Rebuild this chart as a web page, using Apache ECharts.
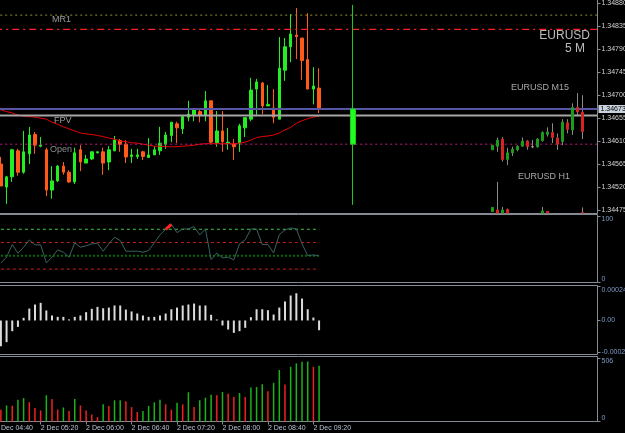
<!DOCTYPE html>
<html>
<head>
<meta charset="utf-8">
<title>EURUSD 5 M</title>
<script src="https://cdn.jsdelivr.net/npm/echarts@6/dist/echarts.min.js"></script>
<style>
  html, body { margin: 0; padding: 0; background: #000; }
  #main { width: 625px; height: 433px; }
</style>
</head>
<body>
<div id="main"></div>
<script>
// time slots, 5 minutes each, from 2 Dec 04:40 (first bar is 04:45)
const slotCount = 107
const times = []
for (let i = 0; i < slotCount; i++) {
  const m = 4 * 60 + 40 + i * 5
  times.push(String(Math.floor(m / 60)).padStart(2, '0') + ':' + String(m % 60).padStart(2, '0'))
}

// 5 minute bars: open, close, low, high
const bars5m = [
  [1.34565, 1.34522, 1.34522, 1.34579], [1.34520, 1.34540, 1.34487, 1.34542],
  [1.34540, 1.34593, 1.34530, 1.34595], [1.34591, 1.34549, 1.34542, 1.34595],
  [1.34549, 1.34589, 1.34546, 1.34630], [1.34585, 1.34622, 1.34565, 1.34638],
  [1.34623, 1.34602, 1.34585, 1.34628], [1.34600, 1.34602, 1.34598, 1.34618],
  [1.34593, 1.34514, 1.34502, 1.34597], [1.34514, 1.34532, 1.34497, 1.34561],
  [1.34532, 1.34561, 1.34530, 1.34563], [1.34561, 1.34549, 1.34544, 1.34569],
  [1.34549, 1.34530, 1.34528, 1.34553], [1.34530, 1.34587, 1.34526, 1.34597],
  [1.34593, 1.34569, 1.34551, 1.34602], [1.34567, 1.34575, 1.34567, 1.34583],
  [1.34575, 1.34589, 1.34573, 1.34590], [1.34587, 1.34589, 1.34586, 1.34590],
  [1.34589, 1.34567, 1.34544, 1.34597], [1.34569, 1.34593, 1.34553, 1.34600],
  [1.34591, 1.34612, 1.34590, 1.34620], [1.34611, 1.34604, 1.34589, 1.34614],
  [1.34604, 1.34579, 1.34567, 1.34612], [1.34580, 1.34583, 1.34567, 1.34595],
  [1.34580, 1.34583, 1.34575, 1.34595], [1.34589, 1.34580, 1.34573, 1.34591],
  [1.34578, 1.34583, 1.34577, 1.34616], [1.34583, 1.34593, 1.34583, 1.34600],
  [1.34591, 1.34606, 1.34583, 1.34638], [1.34604, 1.34622, 1.34595, 1.34628],
  [1.34621, 1.34647, 1.34608, 1.34648], [1.34644, 1.34636, 1.34606, 1.34648],
  [1.34634, 1.34658, 1.34624, 1.34659], [1.34657, 1.34663, 1.34649, 1.34689],
  [1.34660, 1.34671, 1.34649, 1.34671], [1.34668, 1.34661, 1.34647, 1.34671],
  [1.34660, 1.34689, 1.34649, 1.34708], [1.34689, 1.34608, 1.34604, 1.34689],
  [1.34607, 1.34630, 1.34599, 1.34669], [1.34630, 1.34609, 1.34589, 1.34669],
  [1.34606, 1.34608, 1.34593, 1.34636], [1.34604, 1.34599, 1.34573, 1.34614],
  [1.34606, 1.34640, 1.34589, 1.34644], [1.34636, 1.34656, 1.34618, 1.34657],
  [1.34653, 1.34710, 1.34649, 1.34734], [1.34712, 1.34726, 1.34659, 1.34732],
  [1.34724, 1.34679, 1.34663, 1.34726], [1.34679, 1.34682, 1.34679, 1.34720],
  [1.34675, 1.34657, 1.34645, 1.34712], [1.34653, 1.34753, 1.34653, 1.34814],
  [1.34749, 1.34795, 1.34728, 1.34812], [1.34795, 1.34820, 1.34765, 1.34859],
  [1.34818, 1.34815, 1.34771, 1.34871], [1.34812, 1.34768, 1.34730, 1.34812],
  [1.34770, 1.34712, 1.34712, 1.34861], [1.34712, 1.34718, 1.34682, 1.34755],
  [1.34714, 1.34673, 1.34665, 1.34753],
]

// red moving average
const maLine = [
  1.34671, 1.34668, 1.34665, 1.34661, 1.34659, 1.34658, 1.34657, 1.34655, 1.34653, 1.34647,
  1.34643, 1.34638, 1.34634, 1.34630, 1.34626, 1.34624, 1.34623, 1.34621, 1.34619, 1.34616,
  1.34614, 1.34610, 1.34609, 1.34607, 1.34606, 1.34604, 1.34602, 1.34600, 1.34600, 1.34599,
  1.34599, 1.34599, 1.34600, 1.34601, 1.34602, 1.34604, 1.34605, 1.34605, 1.34605, 1.34605,
  1.34605, 1.34605, 1.34606, 1.34608, 1.34612, 1.34617, 1.34619, 1.34620, 1.34622, 1.34626,
  1.34632, 1.34637, 1.34645, 1.34650, 1.34654, 1.34657, 1.34659,
]

// oscillator pane (0..100)
const oscLine = [
  29, 38, 57, 44, 53, 64, 56.5, 56.5, 29.4, 38,
  49, 45.5, 38, 59.5, 53, 55, 58, 59, 47, 58,
  68, 63, 47, 47, 47, 45.5, 48, 59.5, 71.5, 80,
  87.5, 75, 80.5, 80.5, 84, 71.5, 80.5, 34.4, 44, 37,
  38, 34, 58, 64, 80.5, 80.5, 57, 57, 44.4, 72,
  79, 82, 80.5, 58, 40.4, 41.4, 40,
]
const oscLevels = [80, 60, 40, 20]
const oscAlertBars = [29, 30]

// histogram pane
const histValues = [
  -0.000185, -0.000156, -0.000077, -0.000046, 0.000019, 0.000086, 0.000115, 0.000127, 0.000072, 0.000036,
  0.000026, 0.000026, 0.000008, 0.000026, 0.000036, 0.000060, 0.000084, 0.000098, 0.000088, 0.000093,
  0.000108, 0.000108, 0.000079, 0.000065, 0.000050, 0.000036, 0.000026, 0.000026, 0.000036, 0.000050,
  0.000081, 0.000093, 0.000108, 0.000115, 0.000122, 0.000108, 0.000108, 0.000041, 0.000007, -0.000036,
  -0.000065, -0.000089, -0.000077, -0.000053, 0.000024, 0.000081, 0.000081, 0.000074, 0.000043, 0.000093,
  0.000137, 0.000180, 0.000196, 0.000158, 0.000081, 0.000021, -0.000070,
]

// tick volume
const volumes = [
  94, 128, 126, 174, 187, 155, 107, 88, 209, 179,
  96, 112, 83, 179, 128, 88, 56, 35, 137, 123,
  169, 170, 161, 115, 75, 83, 123, 153, 174, 137,
  94, 150, 137, 233, 115, 169, 190, 214, 209, 235,
  222, 195, 227, 195, 271, 275, 297, 241, 308, 410,
  295, 436, 463, 476, 478, 436, 444,
]

// horizontal levels
const mr1Level = 1.34857
const pivotDashLevel = 1.34829
const lastPrice = 1.34673
const fpvLevel = 1.34660
const dayOpenLevel = 1.34604

// big higher timeframe candle drawn at slot 63: open, close, low, high
const daySlot = 63
const dayCandle = [1.34604, 1.34673, 1.34485, 1.34877]

// inset M15 candles: open, close, low, high
const m15Bars = [
  [1.34593, 1.34602, 1.34565, 1.34609], [1.34600, 1.34612, 1.34589, 1.34617],
  [1.34614, 1.34574, 1.34570, 1.34618], [1.34574, 1.34587, 1.34563, 1.34597],
  [1.34587, 1.34594, 1.34581, 1.34599], [1.34593, 1.34600, 1.34590, 1.34602],
  [1.34600, 1.34610, 1.34599, 1.34617], [1.34610, 1.34599, 1.34593, 1.34612],
  [1.34599, 1.34599, 1.34596, 1.34612], [1.34599, 1.34614, 1.34597, 1.34616],
  [1.34611, 1.34627, 1.34609, 1.34629], [1.34623, 1.34628, 1.34619, 1.34637],
  [1.34627, 1.34617, 1.34606, 1.34645], [1.34616, 1.34604, 1.34593, 1.34625],
  [1.34609, 1.34647, 1.34602, 1.34653], [1.34646, 1.34633, 1.34625, 1.34653],
  [1.34632, 1.34676, 1.34622, 1.34684], [1.34676, 1.34667, 1.34659, 1.34704],
  [1.34667, 1.34629, 1.34614, 1.34700],
]
// inset H1 candles (slot, open, close, low, high), only the part above the pane edge
const h1Bars = [
  [0, 1.34472, 1.34480, 1.34469, 1.34483],
  [1, 1.34475, 1.34469, 1.34469, 1.34530],
  [2, 1.34469, 1.34475, 1.34469, 1.34481],
  [3, 1.34476, 1.34469, 1.34469, 1.34478],
  [10, 1.34469, 1.34473, 1.34469, 1.34481],
  [11, 1.34472, 1.34469, 1.34469, 1.34473],
  [18, 1.34470, 1.34469, 1.34469, 1.34480],
]
const insetTicks = [1.34704, 1.34667, 1.34630, 1.34594, 1.34530, 1.34510, 1.34491, 1.34471]

// axis labels
const priceTicks = [1.34475, 1.34520, 1.34565, 1.34610, 1.34655, 1.34700, 1.34745, 1.34790, 1.34835, 1.34880]
const oscTicks = [0, 100]
const histTicks = [-0.00023, 0, 0.000245]
const volTicks = [0, 506]

const fontFamily = 'Liberation Sans'
const frameColor = '#858b95'
const sideLabelColor = '#7f9bc8'
const bullColor = '#22ee22'
const bearColor = '#ff5a1a'
const priceMin = 1.344681
const priceMax = 1.348886

const chart = echarts.init(document.getElementById('main'))

const gridLeft = -4.8
const gridRight = 27.5
// outerBoundsMode none: labels may run past the canvas edge like in the terminal
const frame = { show: true, borderColor: frameColor, borderWidth: 1, backgroundColor: 'transparent', outerBoundsMode: 'none', containLabel: false }

const hiddenX = (gridIndex, data) => ({
  type: 'category', gridIndex, data, boundaryGap: false,
  axisLine: { show: false }, axisTick: { show: false }, axisLabel: { show: false }, splitLine: { show: false },
})

// one value axis on the right; label alignment per axis so ends sit inside the pane
const sideAxis = (gridIndex, min, max, labels, align, ticks, fmt, color, padding) => ({
  type: 'value', gridIndex, position: 'right', min, max,
  splitLine: { show: false },
  axisLine: { show: false },
  axisTick: { show: !!ticks, customValues: ticks || [], length: 3, lineStyle: { color: frameColor } },
  axisLabel: {
    customValues: labels, verticalAlign: align, margin: 4, padding: padding || 0,
    color: color || sideLabelColor, fontSize: 7, fontFamily, formatter: fmt,
  },
})

const lastSlot = bars5m.length
const showTime = (idx) => idx % 8 === 0 && idx <= lastSlot

// a horizontal level across every slot of the main pane
const levelSeries = (name, value, lineStyle, extra) => ({
  name,
  type: 'line',
  xAxisIndex: 0, yAxisIndex: 0,
  symbol: 'none',
  silent: true,
  lineStyle,
  data: times.map((t, i) => [i, value]),
  z: 3,
  ...extra,
})

const priceFmt = (v) => v.toFixed(5)

const option = {
  backgroundColor: '#000',
  animation: false,
  grid: [
    { left: gridLeft, right: gridRight, top: -1, height: 214.5, ...frame },
    { left: 492.7, right: 42.3, top: -1, height: 214.5, ...frame, show: false },
    { left: gridLeft, right: gridRight, top: 214.5, height: 68, ...frame },
    { left: gridLeft, right: gridRight, top: 285.5, height: 69, ...frame },
    { left: gridLeft, right: gridRight, top: 356.5, height: 65, ...frame },
  ],
  xAxis: [
    hiddenX(0, times),
    hiddenX(1, m15Bars.map((d, k) => String(k))),
    hiddenX(2, times),
    hiddenX(3, times),
    {
      type: 'category', gridIndex: 4, data: times, boundaryGap: false,
      axisLine: { show: false },
      splitLine: { show: false },
      axisTick: { show: true, interval: showTime, length: 3, lineStyle: { color: frameColor } },
      axisLabel: {
        interval: showTime, align: 'left', margin: 3,
        color: '#b8c2d4', fontSize: 7, fontFamily,
        formatter: (v) => '2 Dec ' + v,
      },
    },
  ],
  yAxis: [
    sideAxis(0, priceMin, priceMax, priceTicks.slice(0, -1), 'middle', priceTicks, priceFmt, '#d4d4d4'),
    {
      type: 'value', gridIndex: 1, position: 'left', offset: 7.7, min: priceMin, max: priceMax,
      splitLine: { show: false }, axisLine: { show: false }, axisLabel: { show: false },
      axisTick: { customValues: insetTicks, length: 2, lineStyle: { color: '#8c8c8c' } },
    },
    sideAxis(2, -0.15, 102.25, [oscTicks[1]], 'top', oscTicks, (v) => String(v)),
    sideAxis(2, -0.15, 102.25, [oscTicks[0]], 'bottom', null, (v) => String(v)),
    sideAxis(3, -0.000245, 0.000252, [histTicks[2]], 'top', histTicks, (v) => String(v)),
    sideAxis(3, -0.000245, 0.000252, [histTicks[1]], 'middle', null, () => '0.00'),
    sideAxis(3, -0.000245, 0.000252, [histTicks[0]], 'middle', null, (v) => String(v), null, [0, 0, 3, 0]),
    sideAxis(4, 0, 518, [volTicks[1]], 'top', volTicks, (v) => String(v)),
    sideAxis(4, 0, 518, [volTicks[0]], 'bottom', null, (v) => String(v)),
    // top price label pushed down so it stays on the canvas
    sideAxis(0, priceMin, priceMax, priceTicks.slice(-1), 'middle', null, priceFmt, '#d4d4d4', [3, 0, 0, 0]),
  ],
  series: [
    {
      name: 'M5',
      type: 'candlestick',
      xAxisIndex: 0, yAxisIndex: 0,
      barWidth: 3,
      encode: { x: 0, y: [1, 2, 3, 4] },
      itemStyle: {
        color: bullColor, color0: bearColor,
        borderColor: bullColor, borderColor0: bearColor, borderColorDoji: bullColor,
        borderWidth: 1,
      },
      data: bars5m.map((d, i) => [i + 1, ...d]),
      z: 2,
    },
    {
      name: 'MA',
      type: 'line',
      xAxisIndex: 0, yAxisIndex: 0,
      symbol: 'none',
      lineStyle: { color: '#e80000', width: 1 },
      data: maLine.map((v, i) => [i + 1, v]),
      z: 3,
    },
    levelSeries('MR1', mr1Level, { color: '#93932c', type: [2, 3], width: 1 }),
    levelSeries('pivot', pivotDashLevel, { color: '#ff2020', type: [7, 4, 2, 4], width: 1.4 }),
    levelSeries('FPV', fpvLevel, { color: '#a6a6a6', width: 2 }),
    levelSeries('Open', dayOpenLevel, { color: '#c8188c', type: [2, 3], width: 1 }),
    levelSeries('Bid', lastPrice, { color: '#5656a4', width: 2 }, {
      endLabel: {
        show: true, distance: 1,
        formatter: () => priceFmt(lastPrice),
        color: '#000', backgroundColor: '#c9d2de',
        fontSize: 7, fontFamily, padding: [1, 3, 0, 2],
      },
    }),
    {
      name: 'D1',
      type: 'candlestick',
      xAxisIndex: 0, yAxisIndex: 0,
      barWidth: 5,
      encode: { x: 0, y: [1, 2, 3, 4] },
      itemStyle: { color: '#1eff1e', color0: '#1eff1e', borderColor: '#1ec81e', borderColor0: '#1ec81e', borderWidth: 1 },
      data: [[daySlot, ...dayCandle]],
      z: 4,
    },
    // inset: gray wicks, then coloured bodies
    {
      name: 'M15 wick',
      type: 'candlestick',
      xAxisIndex: 1, yAxisIndex: 1,
      barWidth: 1,
      encode: { x: 0, y: [1, 2, 3, 4] },
      itemStyle: { color: '#8a8a8a', color0: '#8a8a8a', borderColor: '#8a8a8a', borderColor0: '#8a8a8a', borderColorDoji: '#8a8a8a', borderWidth: 1 },
      data: m15Bars.map((d, k) => [k, ...d]).concat(h1Bars),
      z: 2,
    },
    {
      name: 'M15 body',
      type: 'candlestick',
      xAxisIndex: 1, yAxisIndex: 1,
      barWidth: 3,
      encode: { x: 0, y: [1, 2, 3, 4] },
      itemStyle: { color: '#1c9c1c', color0: '#d42424', borderColor: '#1c9c1c', borderColor0: '#d42424', borderColorDoji: '#a8a8a8', borderWidth: 1 },
      data: m15Bars.map((d, k) => [k, ...d]).concat(h1Bars)
        .map((d) => [d[0], d[1], d[2], Math.min(d[1], d[2]), Math.max(d[1], d[2])]),
      z: 3,
    },
    // oscillator pane
    ...oscLevels.map((lv) => ({
      name: 'level ' + lv,
      type: 'line',
      xAxisIndex: 2, yAxisIndex: 2,
      symbol: 'none',
      silent: true,
      lineStyle: lv === 80
        ? { color: '#44cc44', type: [3, 3], width: 1 }
        : lv === 40
          ? { color: '#0a6a0a', type: [2, 2], width: 2 }
          : { color: '#cc2020', type: [3, 3], width: 1 },
      data: oscLine.map((v, i) => [i + 1, lv]),
      z: 1,
    })),
    {
      name: 'osc',
      type: 'line',
      xAxisIndex: 2, yAxisIndex: 2,
      symbol: 'none',
      lineStyle: { color: '#3a6262', width: 1 },
      data: oscLine.map((v, i) => [i + 1, v]),
      z: 2,
    },
    {
      name: 'osc alert',
      type: 'line',
      xAxisIndex: 2, yAxisIndex: 2,
      symbol: 'none',
      lineStyle: { color: '#ff2020', width: 3 },
      data: oscAlertBars.map((i) => [i + 1, oscLine[i]]),
      z: 3,
    },
    {
      name: 'hist',
      type: 'bar',
      xAxisIndex: 3, yAxisIndex: 4,
      barWidth: 2,
      itemStyle: { color: '#dcdcdc' },
      data: histValues.map((v, i) => [i + 1, v]),
    },
    {
      name: 'volume',
      type: 'bar',
      xAxisIndex: 4, yAxisIndex: 7,
      barWidth: 1.5,
      // green when volume rose from the previous bar, red otherwise
      data: volumes.map((v, i) => ({
        value: [i + 1, v],
        itemStyle: { color: i > 0 && v > volumes[i - 1] ? '#1ab41a' : '#f02020' },
      })),
    },
  ],
  graphic: [
    { type: 'text', x: 52, y: 20, style: { text: 'MR1', fill: '#9a9a9a', font: '9px Liberation Sans', verticalAlign: 'middle' } },
    { type: 'text', x: 54, y: 121, style: { text: 'FPV', fill: '#a0a0a0', font: '9px Liberation Sans', verticalAlign: 'middle' } },
    { type: 'text', x: 50, y: 149.5, style: { text: 'Open', fill: '#8c8c8c', font: '9px Liberation Sans', verticalAlign: 'middle' } },
    { type: 'text', x: 590, y: 36, style: { text: 'EURUSD', fill: '#bdbdbd', font: '12px Liberation Sans', align: 'right', verticalAlign: 'middle' } },
    { type: 'text', x: 585, y: 48.5, style: { text: '5 M', fill: '#bdbdbd', font: '12px Liberation Sans', align: 'right', verticalAlign: 'middle' } },
    { type: 'text', x: 511, y: 87.5, style: { text: 'EURUSD M15', fill: '#a8a8a8', font: '9px Liberation Sans', verticalAlign: 'middle' } },
    { type: 'text', x: 518, y: 176.5, style: { text: 'EURUSD H1', fill: '#a8a8a8', font: '9px Liberation Sans', verticalAlign: 'middle' } },
  ],
}

chart.setOption(option)
</script>
</body>
</html>
